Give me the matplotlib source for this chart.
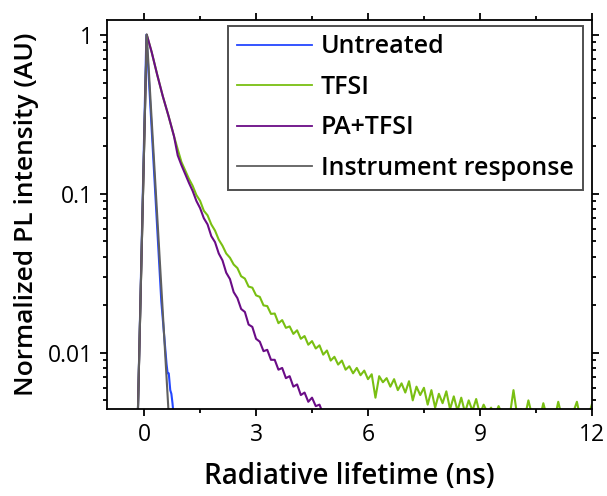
import matplotlib
matplotlib.use("Agg")
import matplotlib.pyplot as plt
from matplotlib.ticker import MultipleLocator, LogLocator, NullFormatter, FixedLocator

plt.rcParams['font.family'] = ['Open Sans', 'DejaVu Sans']

# instrument response (gray)
irf_t = [-0.17, 0.07, 0.66]
irf_y = [0.004, 1.0, 0.004]

# untreated (blue)
untreated_t = [-0.17, 0.06, 0.46, 0.60, 0.63, 0.66, 0.70, 0.73, 0.76, 0.80]
untreated_y = [0.004, 1.0, 0.021, 0.0085, 0.0074, 0.0074, 0.0058, 0.0055, 0.0048, 0.0038]

# common rise / early decay shared by TFSI and PA+TFSI
head_t = [-0.17, 0.07, 0.2, 0.35, 0.5, 0.65, 0.8]
head_y = [0.004, 1.0, 0.78, 0.56, 0.41, 0.31, 0.23]

# TFSI (green)
tfsi_t = head_t + [0.9, 1.0, 1.1, 1.2, 1.3, 1.4, 1.5, 1.6, 1.7, 1.8, 1.9,
                   2.0, 2.1, 2.2, 2.3, 2.4, 2.5, 2.6, 2.7, 2.8, 2.9,
                   3.0, 3.1, 3.2, 3.3, 3.4, 3.5, 3.6, 3.7, 3.8, 3.9,
                   4.0, 4.1, 4.2, 4.3, 4.4, 4.5, 4.6, 4.7, 4.8, 4.9,
                   5.0, 5.1, 5.2, 5.3, 5.4, 5.5, 5.6, 5.7, 5.8, 5.9,
                   6.0, 6.1, 6.2, 6.3, 6.4, 6.5, 6.6, 6.7, 6.8, 6.9,
                   7.0, 7.1, 7.2, 7.3, 7.4, 7.5, 7.6, 7.7, 7.8, 7.9,
                   8.0, 8.1, 8.2, 8.3, 8.4, 8.5, 8.6, 8.7, 8.8, 8.9,
                   9.0, 9.1, 9.2, 9.3, 9.4, 9.5, 9.6, 9.7, 9.8, 9.9,
                   10.0, 10.1, 10.2, 10.3, 10.4, 10.5, 10.6, 10.7, 10.8, 10.9,
                   11.0, 11.1, 11.2, 11.3, 11.4, 11.5, 11.6, 11.7, 11.8, 11.9, 12.0]
tfsi_y = head_y + [0.19, 0.158, 0.140, 0.124, 0.112, 0.098, 0.090, 0.078, 0.073, 0.0640, 0.0585,
                   0.0513, 0.0470, 0.0420, 0.0395, 0.0358, 0.0340, 0.0302, 0.0292, 0.0260, 0.0256,
                   0.0229, 0.0224, 0.0198, 0.0196, 0.0175, 0.0176, 0.0153, 0.0160, 0.0143, 0.0146,
                   0.0131, 0.0138, 0.0122, 0.0127, 0.0112, 0.0118, 0.0106, 0.0111, 0.0097, 0.0103,
                   0.0089, 0.0094, 0.0084, 0.0089, 0.0078, 0.0082, 0.0074, 0.0080, 0.0072, 0.0077,
                   0.0068, 0.0073, 0.0052, 0.0071, 0.0065, 0.0069, 0.0061, 0.0068, 0.0058, 0.0064,
                   0.0056, 0.0066, 0.0050, 0.0061, 0.0054, 0.0060, 0.0047, 0.0058, 0.0045, 0.0055,
                   0.0048, 0.0057, 0.0044, 0.0053, 0.0043, 0.0052, 0.0042, 0.0050, 0.0043, 0.0051,
                   0.0041, 0.0047, 0.0042, 0.0045, 0.0040, 0.0046, 0.0041, 0.0043, 0.0040, 0.0058,
                   0.0040, 0.0044, 0.0039, 0.0050, 0.0040, 0.0043, 0.0038, 0.0048, 0.0039, 0.0041,
                   0.0038, 0.0049, 0.0039, 0.0043, 0.0038, 0.0042, 0.0049, 0.0038, 0.0042, 0.0039, 0.0047]

# PA+TFSI (purple)
pa_t = head_t + [0.9, 1.0, 1.1, 1.2, 1.3, 1.4, 1.5, 1.6, 1.7, 1.8, 1.9,
                 2.0, 2.1, 2.2, 2.3, 2.4, 2.5, 2.6, 2.7, 2.8, 2.9,
                 3.0, 3.1, 3.2, 3.3, 3.4, 3.5, 3.6, 3.7, 3.8, 3.9,
                 4.0, 4.1, 4.2, 4.3, 4.4, 4.5, 4.6, 4.7, 4.8]
pa_y = head_y + [0.174, 0.151, 0.133, 0.117, 0.104, 0.090, 0.081, 0.070, 0.064, 0.054, 0.0495,
                 0.0420, 0.0380, 0.0318, 0.0290, 0.0240, 0.0220, 0.0188, 0.0180, 0.0150, 0.0145,
                 0.0122, 0.0117, 0.0102, 0.0104, 0.0090, 0.0090, 0.0078, 0.0080, 0.0069, 0.0071,
                 0.0061, 0.0063, 0.0054, 0.0056, 0.0049, 0.0052, 0.0046, 0.0047, 0.0041]

fig, ax = plt.subplots(figsize=(6.07, 4.96), dpi=100)
fig.subplots_adjust(left=0.176, right=0.975, bottom=0.175, top=0.960)

ax.plot(untreated_t, untreated_y, color='#2447ff', lw=1.5, label='Untreated')
ax.plot(tfsi_t, tfsi_y, color='#79bf12', lw=1.5, label='TFSI')
ax.plot(pa_t, pa_y, color='#6a0c86', lw=1.5, label='PA+TFSI')
ax.plot(irf_t, irf_y, color='#5f5f5f', lw=1.5, label='Instrument response')

ax.set_yscale('log')
ax.set_xlim(-1, 12)
ax.set_ylim(0.0044, 1.24)
ax.xaxis.set_major_locator(FixedLocator([0, 3, 6, 9, 12]))
ax.xaxis.set_minor_locator(MultipleLocator(1.5))
ax.yaxis.set_major_locator(FixedLocator([0.01, 0.1, 1]))
ax.yaxis.set_major_formatter(plt.FuncFormatter(lambda v, p: f'{v:g}'))
ax.yaxis.set_minor_locator(LogLocator(base=10, subs=range(2, 10)))
ax.yaxis.set_minor_formatter(NullFormatter())

ax.tick_params(which='both', direction='out', top=True, right=True, width=1.3, labelsize=16.5)
ax.tick_params(which='major', length=5, pad=5)
ax.tick_params(which='minor', length=3)
for s in ax.spines.values():
    s.set_linewidth(1.3)

ax.set_xlabel('Radiative lifetime (ns)', fontsize=20, fontweight='semibold', labelpad=11)
ax.set_ylabel('Normalized PL intensity (AU)', fontsize=19, fontweight='semibold', labelpad=6)

leg = ax.legend(loc='upper right', bbox_to_anchor=(0.981, 0.985),
                prop={'weight': 'semibold', 'size': 18}, frameon=True, fancybox=False,
                edgecolor='#222222', handlelength=3.0, handletextpad=0.35,
                labelspacing=0.62, borderpad=0.35, borderaxespad=0)
leg.get_frame().set_linewidth(1.4)
for line in leg.get_lines():
    line.set_linewidth(1.3)

fig.savefig('out.png', dpi=100)
